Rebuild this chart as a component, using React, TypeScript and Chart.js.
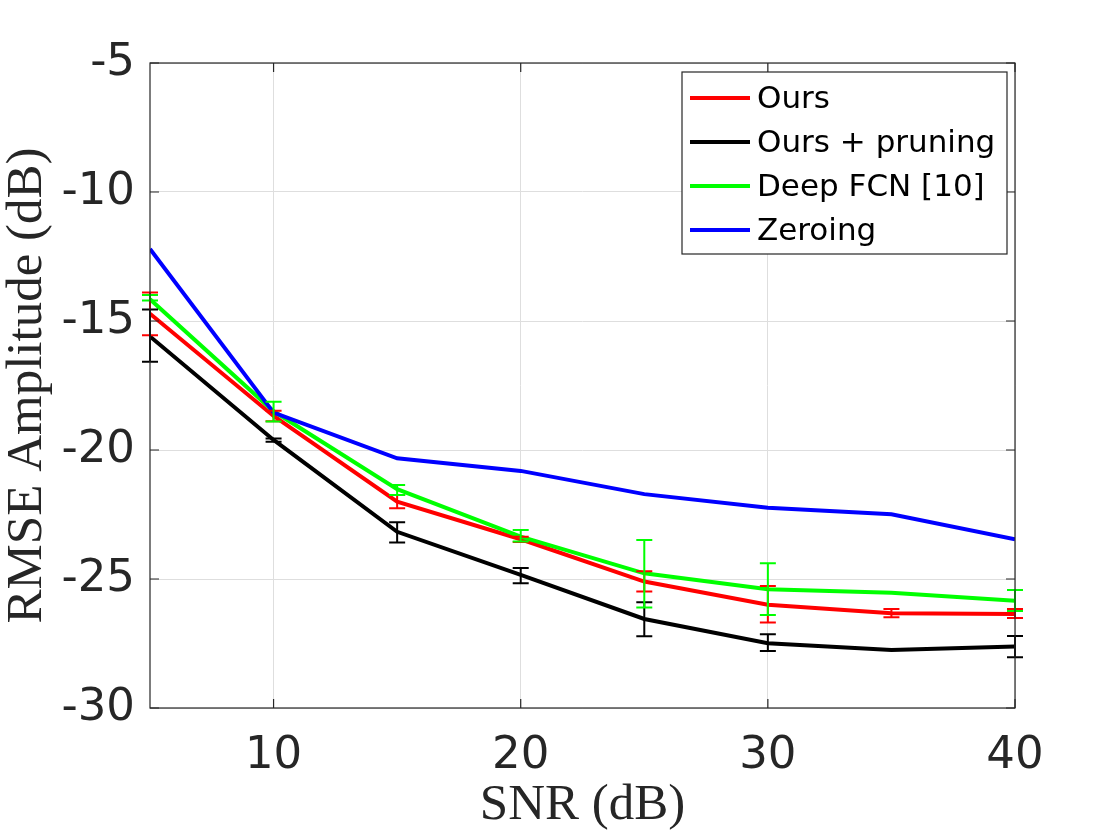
import { useEffect, useRef } from 'react';
import { Chart, registerables } from 'chart.js';

Chart.register(...registerables);

// SNR values on the x axis
const snr = [5, 10, 15, 20, 25, 30, 35, 40];
const xTicks = [10, 20, 30, 40];

// Ours
const oursMean = [-14.72, -18.68, -22.0, -23.46, -25.1, -26.0, -26.33, -26.36];
const oursUpper = [-13.9, -18.48, -21.74, -23.36, -24.7, -25.27, -26.16, -26.16];
const oursLower = [-15.55, -18.89, -22.26, -23.57, -25.48, -26.69, -26.48, -26.51];

// Ours + pruning
const pruningMean = [-15.6, -19.61, -23.17, -24.84, -26.55, -27.49, -27.75, -27.62];
const pruningUpper = [-14.55, -19.55, -22.8, -24.57, -25.9, -27.14, null, -27.21];
const pruningLower = [-16.58, -19.68, -23.59, -25.16, -27.22, -27.79, null, -28.03];

// Deep FCN [10]
const fcnMean = [-14.16, -18.5, -21.52, -23.36, -24.78, -25.4, -25.53, -25.84];
const fcnUpper = [-13.99, -18.13, -21.36, -23.1, -23.49, -24.39, null, -25.43];
const fcnLower = [-14.21, -18.9, -21.74, -23.55, -26.1, -26.4, null, -26.24];

// Zeroing
const zeroingMean = [-12.21, -18.55, -20.32, -20.81, -21.71, -22.24, -22.49, -23.46];

const series = [
  { label: 'Ours', color: '#ff0000', mean: oursMean, upper: oursUpper, lower: oursLower },
  { label: 'Ours + pruning', color: '#000000', mean: pruningMean, upper: pruningUpper, lower: pruningLower },
  { label: 'Deep FCN [10]', color: '#00ff00', mean: fcnMean, upper: fcnUpper, lower: fcnLower },
  { label: 'Zeroing', color: '#0000ff', mean: zeroingMean, upper: null, lower: null },
];

const errorBarPlugin = {
  id: 'errorBars',
  afterDatasetsDraw(chart: any) {
    const { ctx, scales: { x, y } } = chart;
    ctx.save();
    ctx.lineWidth = 2;
    series.forEach(s => {
      if (!s.upper || !s.lower) return;
      ctx.strokeStyle = s.color;
      snr.forEach((v, i) => {
        const hi = s.upper![i];
        const lo = s.lower![i];
        if (hi == null || lo == null) return;
        const px = x.getPixelForValue(v);
        const top = y.getPixelForValue(hi);
        const bot = y.getPixelForValue(lo);
        ctx.beginPath();
        ctx.moveTo(px, top);
        ctx.lineTo(px, bot);
        ctx.moveTo(px - 8, top);
        ctx.lineTo(px + 8, top);
        ctx.moveTo(px - 8, bot);
        ctx.lineTo(px + 8, bot);
        ctx.stroke();
      });
    });
    ctx.restore();
  },
};

// matlab style box with inward ticks
const boxPlugin = {
  id: 'axesBox',
  afterDatasetsDraw(chart: any) {
    const { ctx, chartArea: a, scales: { x, y } } = chart;
    ctx.save();
    ctx.strokeStyle = '#262626';
    ctx.lineWidth = 1.2;
    ctx.strokeRect(a.left, a.top, a.right - a.left, a.bottom - a.top);
    ctx.beginPath();
    x.ticks.forEach((t: any) => {
      const px = x.getPixelForValue(t.value);
      ctx.moveTo(px, a.bottom);
      ctx.lineTo(px, a.bottom - 9);
      ctx.moveTo(px, a.top);
      ctx.lineTo(px, a.top + 9);
    });
    y.ticks.forEach((t: any) => {
      const py = y.getPixelForValue(t.value);
      ctx.moveTo(a.left, py);
      ctx.lineTo(a.left + 9, py);
      ctx.moveTo(a.right, py);
      ctx.lineTo(a.right - 9, py);
    });
    ctx.stroke();
    ctx.restore();
  },
};

const legendPlugin = {
  id: 'boxLegend',
  afterDraw(chart: any) {
    const { ctx, chartArea: a } = chart;
    const w = 325;
    const h = 182;
    const left = a.right - 8 - w;
    const top = a.top + 9;
    ctx.save();
    ctx.fillStyle = '#ffffff';
    ctx.fillRect(left, top, w, h);
    ctx.strokeStyle = '#262626';
    ctx.lineWidth = 1.2;
    ctx.strokeRect(left, top, w, h);
    ctx.font = '31px "DejaVu Sans"';
    ctx.textBaseline = 'middle';
    ctx.textAlign = 'left';
    series.forEach((s, i) => {
      const rowY = top + 26 + i * 44;
      ctx.strokeStyle = s.color;
      ctx.lineWidth = 4;
      ctx.beginPath();
      ctx.moveTo(left + 8, rowY);
      ctx.lineTo(left + 68, rowY);
      ctx.stroke();
      ctx.fillStyle = '#000000';
      ctx.fillText(s.label, left + 75, rowY + 2);
    });
    ctx.restore();
  },
};

export default function App() {
  const canvasRef = useRef<HTMLCanvasElement>(null);
  const chartRef = useRef<Chart | null>(null);

  useEffect(() => {
    if (!canvasRef.current) return;
    if (chartRef.current) chartRef.current.destroy();

    chartRef.current = new Chart(canvasRef.current, {
      type: 'line',
      data: {
        datasets: series.map((s, i) => ({
          label: s.label,
          data: snr.map((v, j) => ({ x: v, y: s.mean[j] })),
          borderColor: s.color,
          backgroundColor: s.color,
          borderWidth: 4,
          pointRadius: 0,
          tension: 0,
          order: series.length - i,
        })),
      },
      options: {
        animation: false,
        responsive: true,
        maintainAspectRatio: false,
        layout: { padding: { top: 63, right: 105, left: 0, bottom: 0 } },
        plugins: {
          legend: { display: false },
          tooltip: { enabled: false },
        },
        scales: {
          x: {
            type: 'linear',
            min: 5,
            max: 40,
            afterBuildTicks: (scale: any) => {
              scale.ticks = xTicks.map(v => ({ value: v }));
            },
            afterFit: (scale: any) => {
              scale.height = 132;
            },
            grid: { color: '#dedede', lineWidth: 1, drawTicks: false },
            border: { display: false },
            ticks: {
              padding: 21,
              color: '#262626',
              font: { family: '"DejaVu Sans"', size: 45 },
              maxRotation: 0,
            },
            title: {
              display: true,
              text: 'SNR (dB)',
              color: '#262626',
              font: { family: '"Liberation Serif"', size: 51, lineHeight: 1.1 },
              padding: { top: 0, bottom: 6 },
            },
          },
          y: {
            min: -30,
            max: -5,
            afterFit: (scale: any) => {
              scale.width = 150;
            },
            grid: { color: '#dedede', lineWidth: 1, drawTicks: false },
            border: { display: false },
            ticks: {
              stepSize: 5,
              padding: 15,
              color: '#262626',
              font: { family: '"DejaVu Sans"', size: 45 },
            },
            title: {
              display: true,
              text: 'RMSE Amplitude (dB)',
              color: '#262626',
              font: { family: '"Liberation Serif"', size: 51, lineHeight: 1.1 },
              padding: { top: 0, bottom: 0 },
            },
          },
        },
      },
      plugins: [errorBarPlugin, boxPlugin, legendPlugin],
    });

    return () => {
      if (chartRef.current) {
        chartRef.current.destroy();
        chartRef.current = null;
      }
    };
  }, []);

  return (
    <div style={{ position: 'absolute', left: 0, top: 0, width: 1120, height: 840, background: '#ffffff' }}>
      <canvas ref={canvasRef}></canvas>
    </div>
  );
}
